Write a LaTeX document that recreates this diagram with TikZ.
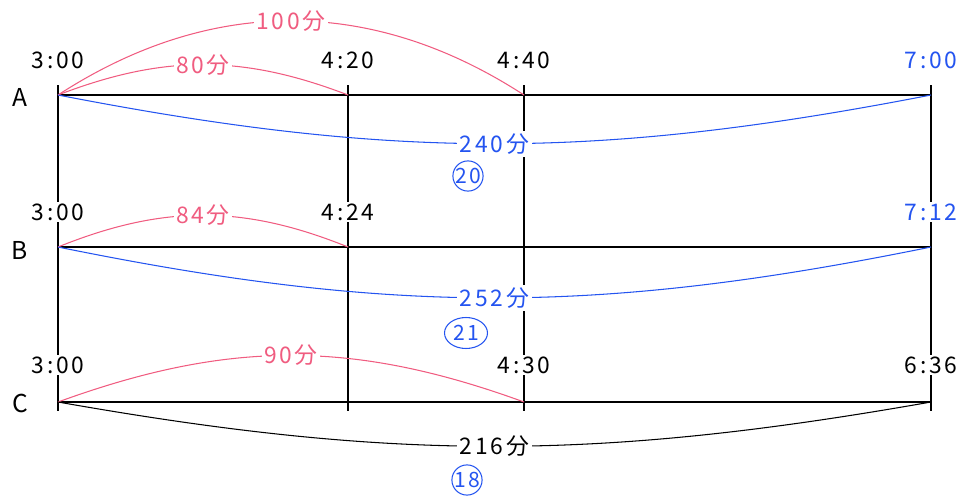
\documentclass[tikz,border=0pt]{standalone}
\usepackage{fontspec}
\setmainfont{Noto Sans CJK JP}[LetterSpace=12.0]
\usetikzlibrary{shapes.geometric, positioning}

\definecolor{minpink}{RGB}{240,92,128}
\definecolor{minblue}{RGB}{36,84,240}

\begin{document}
\begin{tikzpicture}[
    x=0.02cm, y=-0.02cm,
    bar/.style={line width=1.7pt},
    span/.style={line width=0.6pt},
    tlabel/.style={fill=white, inner sep=1pt, font=\fontsize{13}{15}\selectfont},
    rowlabel/.style={font=\fontsize{14}{16}\selectfont},
    minlabel/.style={fill=white, inner sep=1.5pt, font=\fontsize{13}{15}\selectfont},
    marker/.style={draw, circle, minblue, line width=0.6pt, inner sep=0pt, minimum size=0.6cm, font=\fontsize{12}{14}\selectfont}
]
\useasboundingbox (0,0) rectangle (965,497);

% Grid points
\coordinate (A0) at (58,95);   \coordinate (A1) at (348,95);
\coordinate (A2) at (524,95);  \coordinate (A3) at (931,95);
\coordinate (B0) at (58,247);  \coordinate (B1) at (348,247);
\coordinate (B3) at (931,247);
\coordinate (C0) at (58,402);  \coordinate (C2) at (524,402);
\coordinate (C3) at (931,402);

% Vertical bars
\foreach \x [count=\i] in {58,348,524,931} {
    \coordinate (top\i) at (\x,85);
    \coordinate (bot\i) at (\x,411);
    \draw [bar] (top\i) -- (bot\i);
}

% Horizontal bars
\draw [bar] (A0) -- (A3);
\draw [bar] (B0) -- (B3);
\draw [bar] (C0) -- (C3);

% Row names
\node [rowlabel] (nameA) at (20,97) {A};
\node [rowlabel] (nameB) at (20,250) {B};
\node [rowlabel] (nameC) at (20,403) {C};

% Times
\node [tlabel] (tA0) at (58,60) {3:00};
\node [tlabel] (tA1) at (348,60) {4:20};
\node [tlabel] (tA2) at (524,60) {4:40};
\node [tlabel, text=minblue] (tA3) at (931,60) {7:00};
\node [tlabel] (tB0) at (58,212) {3:00};
\node [tlabel] (tB1) at (348,212) {4:24};
\node [tlabel, text=minblue] (tB3) at (931,212) {7:12};
\node [tlabel] (tC0) at (58,365) {3:00};
\node [tlabel] (tC2) at (524,365) {4:30};
\node [tlabel] (tC3) at (931,365) {6:36};

% Spans above
\draw [span, minpink] (A0) to[bend left=33] node [minlabel] (mA100) {100分} (A2);
\draw [span, minpink] (A0) to[bend left=21] node [minlabel] (mA80) {80分} (A1);
\draw [span, minpink] (B0) to[bend left=22] node [minlabel] (mB84) {84分} (B1);
\draw [span, minpink] (C0) to[bend left=20] node [minlabel] (mC90) {90分} (C2);

% Spans below
\draw [span, minblue] (A0) to[bend right=11] node [minlabel] (mA240) {240分} (A3);
\draw [span, minblue] (B0) to[bend right=11.5] node [minlabel] (mB252) {252分} (B3);
\draw [span] (C0) to[bend right=10] node [minlabel] (mC216) {216分} (C3);

% Circled numbers
\node [marker] (kA) at (468,176) {20};
\node [marker, ellipse, minimum width=0.86cm, minimum height=0.62cm] (kB) at (466,333) {21};
\node [marker] (kC) at (467,480) {18};

\end{tikzpicture}
\end{document}
